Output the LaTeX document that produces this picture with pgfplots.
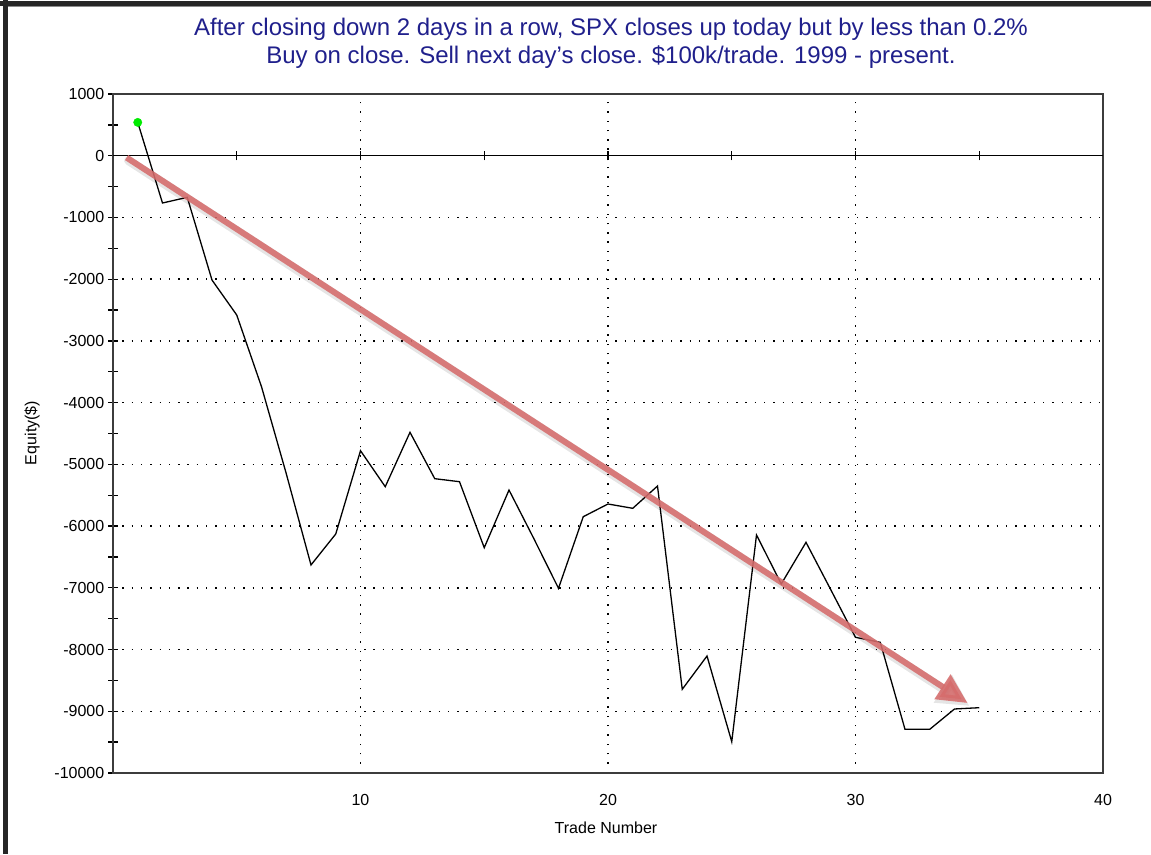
\documentclass[border=0pt]{standalone}
\usepackage{pgfplots}
\pgfplotsset{compat=1.18}
\usepackage{fontspec}
\setmainfont{Liberation Sans}
\usetikzlibrary{arrows.meta}
\definecolor{titleblue}{RGB}{32,32,140}
\definecolor{arrowred}{RGB}{214,108,108}
\definecolor{dotgreen}{RGB}{0,235,0}
\definecolor{framegray}{RGB}{60,60,60}
\begin{document}
\begin{tikzpicture}[x=1pt,y=1pt]
\useasboundingbox (0,0) rectangle (1151,854);
\fill[white] (0,0) rectangle (1151,854);
% window borders
\fill[black!85] (3,0) rectangle (8,854);
\fill[black!85] (0,848) rectangle (1151,853);
\draw[black!45, line width=1pt] (8,847.5) -- (1151,847.5);
% titles
\node[text=titleblue, font=\fontsize{24}{28}\selectfont] at (611,825) {After closing down 2 days in a row, SPX closes up today but by less than 0.2\%};
\node[text=titleblue, font=\fontsize{24}{28}\selectfont] at (611,797) {Buy on close. Sell next day's close. \$100k/trade. 1999 - present.};
\node[rotate=90, font=\fontsize{16}{19}\selectfont] at (32,421) {Equity(\$)};
\node[font=\fontsize{16}{19}\selectfont] at (606,26) {Trade Number};
\begin{axis}[
  at={(113pt,81pt)}, anchor=south west,
  scale only axis, width=990pt, height=679pt,
  xmin=0, xmax=40, ymin=-10000, ymax=1000,
  xtick={10,20,30,40},
  ytick={-10000,-9000,...,1000},
  minor ytick={-9500,-8500,...,500},
  ytick pos=left,
  axis line style={draw=framegray, line width=1.6pt},
  xmajorgrids, ymajorgrids,
  grid style={black, line width=1.4pt, dash pattern=on 1.4pt off 7.9pt},
  xtick style={draw=none},
  ytick style={black, line width=1.3pt},
  tick align=center,
  major tick length=9pt, minor tick length=9pt,
  minor tick style={black, line width=1.3pt},
  /pgf/number format/assume math mode=true,
  /pgf/number format/1000 sep={},
  scaled y ticks=false,
  ticklabel style={font=\fontsize{16}{19}\selectfont},
  xticklabel style={anchor=north, inner sep=0pt, yshift=-17pt},
  yticklabel style={anchor=east, inner sep=0pt, xshift=-4pt},
  clip=false,
]
\draw[black, line width=1.5pt] (axis cs:0,0) -- (axis cs:40,0);
\pgfplotsinvokeforeach{5,10,15,20,25,30,35}{
  \draw[black, line width=1.3pt] (axis cs:#1,-75) -- (axis cs:#1,75);
}
\addplot[black, line width=1.3pt] coordinates {
(1,540) (2,-766) (3,-674) (4,-2014) (5,-2581) (6,-3742) (7,-5150)
(8,-6630) (9,-6128) (10,-4779) (11,-5362) (12,-4481) (13,-5232)
(14,-5281) (15,-6350) (16,-5416) (17,-6200) (18,-7008) (19,-5848)
(20,-5642) (21,-5712) (22,-5351) (23,-8644) (24,-8105) (25,-9493)
(26,-6144) (27,-6938) (28,-6263) (29,-7030) (30,-7802) (31,-7883)
(32,-9292) (33,-9292) (34,-8963) (35,-8942)
};
\addplot[only marks, mark=*, mark size=4.2pt, dotgreen, mark options={draw=dotgreen, fill=dotgreen}] coordinates {(1,540)};
% annotation arrow with soft shadow
\draw[black, opacity=0.10, line width=9pt, line cap=round, -{Triangle[length=32pt,width=31pt]}]
  ([shift={(2pt,-3pt)}]axis cs:0.55,-30) -- ([shift={(2pt,-3pt)}]axis cs:34.53,-8867);
\draw[arrowred, opacity=0.88, line width=6pt, -{Triangle[length=30pt,width=28pt]}]
  (axis cs:0.55,-30) -- (axis cs:34.53,-8867);
\end{axis}
\end{tikzpicture}
\end{document}
